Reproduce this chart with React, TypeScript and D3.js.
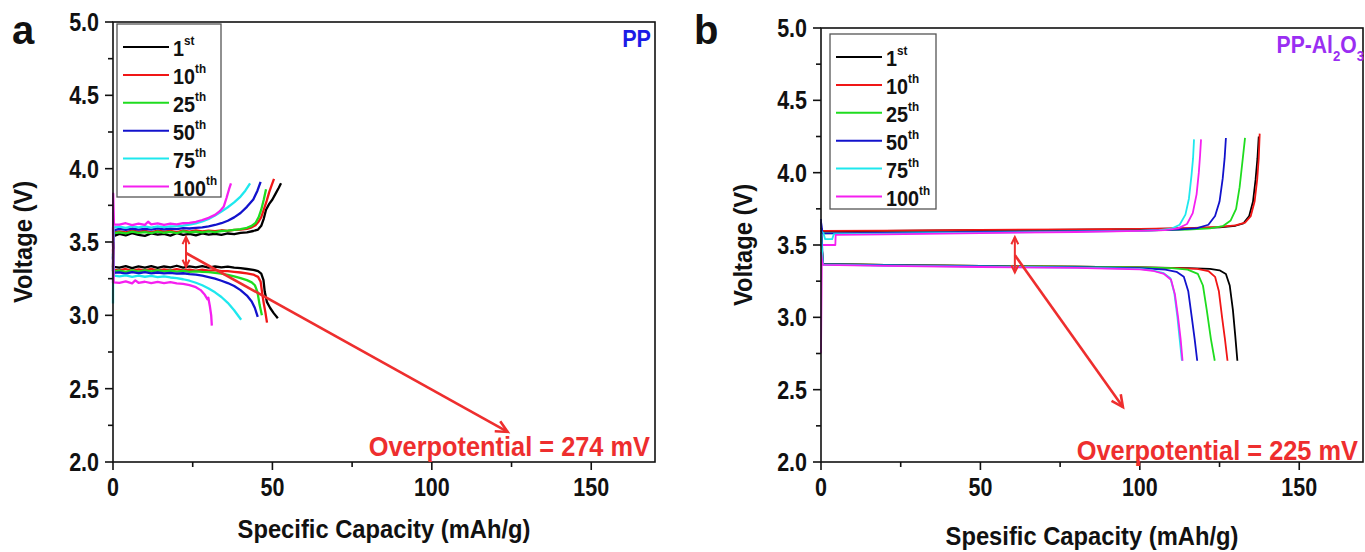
import React from 'react';
import * as d3 from 'd3';

type Pt = [number, number];

const FONT = "'Liberation Sans', Arial, sans-serif";

const cycleLabels = ['1', '10', '25', '50', '75', '100'];
const cycleSuffix = ['st', 'th', 'th', 'th', 'th', 'th'];
const cycleColors = ['#000000', '#f01616', '#1fdc1f', '#1212cc', '#1ee8ee', '#f51ff0'];

const xMajor = [0, 50, 100, 150];
const xMinor = [25, 75, 125];
const yMajor = [2.0, 2.5, 3.0, 3.5, 4.0, 4.5, 5.0];
const yMinor = [2.25, 2.75, 3.25, 3.75, 4.25, 4.75];

// panel a: PP separator (charge / discharge, capacity mAh/g vs voltage V)
const ppCharge1: Pt[] = [[0, 3.30], [0.2, 3.54], [2, 3.555], [4, 3.545], [6, 3.56], [8, 3.548], [10, 3.542], [12, 3.558], [14, 3.55], [16, 3.556], [18, 3.544], [20, 3.56], [22, 3.549], [24, 3.555], [26, 3.545], [28, 3.559], [30, 3.55], [32, 3.556], [34, 3.549], [36, 3.558], [38, 3.553], [40, 3.562], [42, 3.566], [44, 3.575], [45.5, 3.585], [46.5, 3.61], [47.3, 3.66], [48, 3.72], [49, 3.76], [50, 3.79], [51, 3.83], [52, 3.87], [52.7, 3.9]];
const ppCharge10: Pt[] = [[0, 3.33], [0.2, 3.565], [2, 3.572], [4, 3.566], [6, 3.578], [8, 3.57], [10, 3.575], [12, 3.566], [14, 3.578], [16, 3.57], [18, 3.576], [20, 3.568], [22, 3.577], [24, 3.571], [26, 3.579], [28, 3.572], [30, 3.578], [32, 3.574], [34, 3.58], [36, 3.576], [38, 3.582], [40, 3.584], [42, 3.59], [43.5, 3.6], [44.7, 3.615], [45.7, 3.64], [46.5, 3.67], [47.3, 3.72], [48.2, 3.78], [49, 3.84], [49.8, 3.89], [50.5, 3.93]];
const ppCharge25: Pt[] = [[0, 3.32], [0.2, 3.56], [2, 3.566], [4, 3.558], [6, 3.57], [8, 3.562], [10, 3.568], [12, 3.56], [14, 3.571], [16, 3.563], [18, 3.569], [20, 3.561], [22, 3.572], [24, 3.565], [26, 3.57], [28, 3.566], [30, 3.573], [32, 3.568], [34, 3.575], [36, 3.578], [38, 3.583], [40, 3.588], [42, 3.597], [43.5, 3.61], [44.7, 3.63], [45.7, 3.67], [46.5, 3.72], [47.3, 3.79], [48, 3.86]];
const ppCharge50: Pt[] = [[0, 3.38], [0.2, 3.58], [2, 3.59], [4, 3.582], [6, 3.592], [8, 3.585], [10, 3.59], [12, 3.584], [14, 3.593], [16, 3.586], [18, 3.591], [20, 3.588], [22, 3.594], [24, 3.592], [26, 3.597], [28, 3.6], [30, 3.607], [32, 3.616], [34, 3.628], [36, 3.645], [38, 3.668], [40, 3.698], [42, 3.74], [44, 3.79], [45.3, 3.85], [46.3, 3.91]];
const ppCharge75: Pt[] = [[0, 3.4], [0.2, 3.6], [2, 3.605], [4, 3.597], [6, 3.607], [8, 3.6], [10, 3.606], [12, 3.598], [14, 3.607], [16, 3.601], [18, 3.607], [20, 3.606], [22, 3.611], [24, 3.618], [26, 3.627], [28, 3.64], [30, 3.657], [32, 3.68], [34, 3.707], [36, 3.737], [38, 3.77], [40, 3.81], [41.5, 3.85], [43, 3.9]];
const ppCharge100: Pt[] = [[0, 3.22], [0.05, 3.83], [0.3, 3.62], [2, 3.618], [4, 3.628], [6, 3.615], [8, 3.625], [10, 3.617], [11, 3.638], [12, 3.62], [14, 3.627], [16, 3.616], [18, 3.626], [20, 3.62], [22, 3.628], [24, 3.63], [26, 3.638], [28, 3.65], [30, 3.665], [32, 3.685], [33.5, 3.71], [34.7, 3.74], [35.6, 3.8], [36.4, 3.86], [37, 3.9]];

const ppDischarge1: Pt[] = [[0, 3.5], [0.2, 3.33], [2, 3.325], [4, 3.335], [6, 3.322], [8, 3.334], [10, 3.326], [12, 3.336], [14, 3.324], [16, 3.333], [18, 3.327], [20, 3.338], [22, 3.325], [24, 3.334], [26, 3.327], [28, 3.335], [30, 3.326], [32, 3.333], [34, 3.327], [36, 3.332], [38, 3.325], [40, 3.322], [42, 3.316], [44, 3.31], [45.5, 3.302], [46.5, 3.285], [47.2, 3.24], [47.6, 3.16], [48.3, 3.09], [49.3, 3.05], [50.4, 3.015], [51.7, 2.98]];
const ppDischarge10: Pt[] = [[0, 3.45], [0.2, 3.31], [2, 3.306], [4, 3.316], [6, 3.304], [8, 3.314], [10, 3.306], [12, 3.316], [14, 3.305], [16, 3.313], [18, 3.306], [20, 3.315], [22, 3.307], [24, 3.312], [26, 3.305], [28, 3.311], [30, 3.304], [32, 3.308], [34, 3.302], [36, 3.302], [38, 3.297], [40, 3.292], [42, 3.286], [44, 3.278], [45.5, 3.262], [46.3, 3.23], [46.8, 3.15], [47.3, 3.08], [47.8, 3.02], [48.3, 2.95]];
const ppDischarge25: Pt[] = [[0, 3.42], [0.2, 3.3], [2, 3.304], [4, 3.296], [6, 3.306], [8, 3.298], [10, 3.307], [12, 3.299], [14, 3.306], [16, 3.3], [18, 3.305], [20, 3.298], [22, 3.303], [24, 3.297], [26, 3.3], [28, 3.296], [30, 3.295], [32, 3.29], [34, 3.285], [36, 3.276], [38, 3.266], [40, 3.254], [42, 3.24], [43.5, 3.225], [44.5, 3.205], [45.3, 3.16], [46, 3.07], [46.7, 3.0]];
const ppDischarge50: Pt[] = [[0, 3.4], [0.2, 3.29], [2, 3.293], [4, 3.285], [6, 3.295], [8, 3.287], [10, 3.294], [12, 3.286], [14, 3.292], [16, 3.286], [18, 3.29], [20, 3.285], [22, 3.287], [24, 3.281], [26, 3.277], [28, 3.27], [30, 3.261], [32, 3.25], [34, 3.236], [36, 3.22], [38, 3.2], [40, 3.172], [42, 3.135], [43.5, 3.095], [44.5, 3.05], [45.4, 2.99]];
const ppDischarge75: Pt[] = [[0, 3.08], [0.05, 3.45], [0.3, 3.27], [2, 3.265], [4, 3.272], [6, 3.262], [8, 3.27], [10, 3.263], [12, 3.269], [14, 3.261], [16, 3.266], [18, 3.258], [20, 3.254], [22, 3.246], [24, 3.236], [26, 3.222], [28, 3.205], [30, 3.183], [32, 3.157], [34, 3.125], [36, 3.085], [38, 3.035], [40.2, 2.97]];
const ppDischarge100: Pt[] = [[0, 3.6], [0.2, 3.225], [2, 3.222], [4, 3.232], [6, 3.218], [7, 3.238], [8, 3.222], [10, 3.229], [12, 3.219], [14, 3.228], [16, 3.22], [18, 3.226], [20, 3.218], [22, 3.214], [24, 3.206], [26, 3.192], [27.5, 3.172], [28.8, 3.14], [29.6, 3.11], [29.9, 3.12], [30.4, 3.06], [30.8, 3.0], [31, 2.93]];

// panel b: PP-Al2O3 separator
const alCharge1: Pt[] = [[0, 3.62], [0.5, 3.595], [20, 3.597], [50, 3.602], [80, 3.606], [100, 3.61], [115, 3.615], [125, 3.622], [130, 3.633], [132.5, 3.65], [134.3, 3.7], [135.5, 3.8], [136.3, 3.95], [136.9, 4.1], [137.3, 4.25]];
const alCharge10: Pt[] = [[0, 3.62], [0.5, 3.598], [20, 3.6], [50, 3.604], [80, 3.608], [100, 3.612], [115, 3.617], [125, 3.625], [130, 3.635], [133, 3.655], [134.8, 3.7], [136, 3.8], [136.8, 3.95], [137.3, 4.1], [137.6, 4.27]];
const alCharge25: Pt[] = [[0, 3.6], [0.5, 3.58], [20, 3.583], [50, 3.59], [80, 3.596], [100, 3.6], [115, 3.606], [122, 3.615], [126, 3.63], [128.5, 3.67], [130.2, 3.75], [131.3, 3.9], [132.2, 4.08], [133, 4.24]];
const alCharge50: Pt[] = [[0, 3.66], [0.5, 3.58], [20, 3.583], [50, 3.59], [80, 3.596], [100, 3.6], [112, 3.606], [118, 3.617], [121.5, 3.64], [123.6, 3.7], [125, 3.8], [126, 3.96], [126.6, 4.1], [127, 4.24]];
const alCharge75: Pt[] = [[0, 3.6], [0.8, 3.58], [1.3, 3.54], [3.5, 3.54], [4, 3.575], [20, 3.578], [50, 3.585], [80, 3.592], [100, 3.598], [106, 3.603], [110, 3.613], [112.5, 3.64], [114.3, 3.71], [115.4, 3.82], [116.2, 3.98], [116.7, 4.1], [117, 4.23]];
const alCharge100: Pt[] = [[0, 2.75], [0.3, 3.5], [4.5, 3.5], [4.6, 3.57], [20, 3.574], [50, 3.582], [80, 3.59], [100, 3.597], [108, 3.603], [112, 3.615], [114.8, 3.645], [116.6, 3.72], [117.8, 3.85], [118.5, 4.0], [118.9, 4.12], [119.2, 4.23]];

const alDischarge1: Pt[] = [[0, 3.58], [0.6, 3.37], [20, 3.363], [50, 3.356], [80, 3.35], [100, 3.345], [115, 3.34], [122, 3.335], [125, 3.325], [127, 3.3], [128.2, 3.22], [129.2, 3.05], [129.9, 2.88], [130.6, 2.7]];
const alDischarge10: Pt[] = [[0, 3.58], [0.6, 3.37], [20, 3.363], [50, 3.356], [80, 3.35], [100, 3.345], [112, 3.34], [118, 3.335], [121.5, 3.32], [123.6, 3.28], [124.8, 3.18], [125.8, 3.0], [126.7, 2.85], [127.5, 2.7]];
const alDischarge25: Pt[] = [[0, 3.58], [0.6, 3.37], [20, 3.363], [50, 3.356], [80, 3.35], [100, 3.345], [110, 3.34], [115, 3.33], [118.2, 3.3], [119.8, 3.22], [121, 3.05], [122.3, 2.85], [123.5, 2.7]];
const alDischarge50: Pt[] = [[0, 3.68], [0.6, 3.367], [20, 3.36], [50, 3.353], [80, 3.347], [100, 3.34], [108, 3.33], [111.5, 3.315], [113.8, 3.28], [115.2, 3.18], [116.3, 3.0], [117.2, 2.85], [118, 2.7]];
const alDischarge75: Pt[] = [[0, 3.58], [0.6, 3.365], [20, 3.358], [50, 3.35], [80, 3.344], [100, 3.335], [104, 3.325], [107.5, 3.305], [109.6, 3.27], [110.8, 3.17], [111.8, 3.0], [112.5, 2.85], [113.2, 2.7]];
const alDischarge100: Pt[] = [[0, 3.45], [0.6, 3.363], [20, 3.356], [50, 3.348], [80, 3.342], [100, 3.332], [104, 3.322], [107.6, 3.3], [109.8, 3.26], [111, 3.16], [112, 3.0], [112.8, 2.85], [113.4, 2.7]];

const ppCharge = [ppCharge1, ppCharge10, ppCharge25, ppCharge50, ppCharge75, ppCharge100];
const ppDischarge = [ppDischarge1, ppDischarge10, ppDischarge25, ppDischarge50, ppDischarge75, ppDischarge100];
const alCharge = [alCharge1, alCharge10, alCharge25, alCharge50, alCharge75, alCharge100];
const alDischarge = [alDischarge1, alDischarge10, alDischarge25, alDischarge50, alDischarge75, alDischarge100];

// overpotential annotation: double arrow (capacity, top V, bottom V), pointer line start/end
const ppGap = { x: 22.9, top: 3.535, bottom: 3.33, from: [22.9, 3.425] as Pt, to: [123.8, 2.205] as Pt };
const alGap = { x: 60.8, top: 3.555, bottom: 3.31, from: [60.8, 3.43] as Pt, to: [94.7, 2.38] as Pt };

const RED = '#ee2e2e';
const SX = 0.86; // condensed look of the original bold face

function head(x1: number, y1: number, x2: number, y2: number, len = 11) {
  const a = Math.atan2(y2 - y1, x2 - x1);
  const p1 = [x2 - len * Math.cos(a - 0.45), y2 - len * Math.sin(a - 0.45)];
  const p2 = [x2 - len * Math.cos(a + 0.45), y2 - len * Math.sin(a + 0.45)];
  return `M${p1[0]},${p1[1]}L${x2},${y2}L${p2[0]},${p2[1]}`;
}

const Txt = ({ x, y, size, anchor = 'start', fill = '#111', rotate = 0, sx = SX, children }: any) => (
  <text
    transform={`translate(${x},${y}) rotate(${rotate}) scale(${sx},1)`}
    textAnchor={anchor}
    fontSize={size}
    fill={fill}
  >
    {children}
  </text>
);

interface PanelProps {
  box: { left: number; top: number; right: number; bottom: number };
  charge: Pt[][];
  discharge: Pt[][];
  legend: { left: number; top: number; width: number; height: number };
  gap: typeof ppGap;
  xTitle: string;
  xTitleY: number;
  yTitleX: number;
  overText: string;
  overY: number;
  letter: string;
  letterX: number;
  sample: React.ReactNode;
  lineWidth: number;
}

const Panel = ({ box, charge, discharge, legend, gap, xTitle, xTitleY, yTitleX, overText, overY, letter, letterX, sample, lineWidth }: PanelProps) => {
  const x = d3.scaleLinear().domain([0, 170]).range([box.left, box.right]);
  const y = d3.scaleLinear().domain([2, 5]).range([box.bottom, box.top]);
  const line = d3.line<Pt>().x(d => x(d[0])).y(d => y(d[1]));

  const ax = x(gap.x);
  const aTop = y(gap.top);
  const aBot = y(gap.bottom);
  const fx = x(gap.from[0]), fy = y(gap.from[1]);
  const tx = x(gap.to[0]), ty = y(gap.to[1]);

  return (
    <g fontFamily={FONT} fontWeight="bold">
      {charge.map((d, i) => (
        <path key={'c' + i} d={line(d) || ''} fill="none" stroke={cycleColors[i]} strokeWidth={lineWidth} strokeLinejoin="round" />
      ))}
      {discharge.map((d, i) => (
        <path key={'d' + i} d={line(d) || ''} fill="none" stroke={cycleColors[i]} strokeWidth={lineWidth} strokeLinejoin="round" />
      ))}

      {/* frame */}
      <rect x={box.left} y={box.top} width={box.right - box.left} height={box.bottom - box.top} fill="none" stroke="#111" strokeWidth={1.6} />

      {xMajor.map(t => (
        <g key={'xm' + t}>
          <line x1={x(t)} x2={x(t)} y1={box.bottom} y2={box.bottom + 8} stroke="#111" strokeWidth={1.6} />
          <Txt x={x(t)} y={box.bottom + 34} size={25} anchor="middle">{t}</Txt>
        </g>
      ))}
      {xMinor.map(t => (
        <line key={'xn' + t} x1={x(t)} x2={x(t)} y1={box.bottom} y2={box.bottom + 5} stroke="#111" strokeWidth={1.6} />
      ))}
      {yMajor.map(t => (
        <g key={'ym' + t}>
          <line x1={box.left - 8} x2={box.left} y1={y(t)} y2={y(t)} stroke="#111" strokeWidth={1.6} />
          <Txt x={box.left - 14} y={y(t) + 9} size={25} anchor="end">{t.toFixed(1)}</Txt>
        </g>
      ))}
      {yMinor.map(t => (
        <line key={'yn' + t} x1={box.left - 5} x2={box.left} y1={y(t)} y2={y(t)} stroke="#111" strokeWidth={1.6} />
      ))}

      <Txt x={(box.left + box.right) / 2} y={xTitleY} size={25} anchor="middle" sx={0.95}>{xTitle}</Txt>
      <Txt x={yTitleX} y={(box.top + box.bottom) / 2} size={25} anchor="middle" rotate={-90} sx={0.95}>Voltage (V)</Txt>

      <Txt x={letterX} y={44} size={40} sx={1}>{letter}</Txt>

      {/* legend */}
      <rect x={legend.left} y={legend.top} width={legend.width} height={legend.height} fill="#fff" stroke="#555" strokeWidth={1.3} />
      {cycleLabels.map((c, i) => {
        const ly = legend.top + 23 + i * 27.9;
        return (
          <g key={'lg' + c}>
            <line x1={legend.left + 6} x2={legend.left + 52} y1={ly} y2={ly} stroke={cycleColors[i]} strokeWidth={2} />
            <Txt x={legend.left + 56} y={ly + 9} size={22} sx={0.9}>
              {c}
              <tspan fontSize={13} dy={-11}>{cycleSuffix[i]}</tspan>
            </Txt>
          </g>
        );
      })}

      {sample}

      {/* overpotential arrows */}
      <line x1={ax} x2={ax} y1={aTop} y2={aBot} stroke={RED} strokeWidth={2} />
      <path d={head(ax, aBot, ax, aTop, 8)} fill="none" stroke={RED} strokeWidth={2} />
      <path d={head(ax, aTop, ax, aBot, 8)} fill="none" stroke={RED} strokeWidth={2} />
      <line x1={fx} y1={fy} x2={tx} y2={ty} stroke={RED} strokeWidth={2.6} />
      <path d={head(fx, fy, tx, ty, 13)} fill="none" stroke={RED} strokeWidth={2.6} />
      <Txt x={box.right - 5} y={overY} size={27} anchor="end" fill={RED} sx={0.94}>{overText}</Txt>
    </g>
  );
};

export default function App() {
  return (
    <svg width={1365} height={552} style={{ position: 'absolute', left: 0, top: 0, background: '#fff' }}>
      <rect width={1365} height={552} fill="#fff" />
      <Panel
        box={{ left: 113, top: 22, right: 655, bottom: 462 }}
        charge={ppCharge}
        discharge={ppDischarge}
        legend={{ left: 117, top: 24, width: 104, height: 173 }}
        gap={ppGap}
        xTitle="Specific Capacity (mAh/g)"
        xTitleY={538}
        yTitleX={32}
        overText="Overpotential = 274 mV"
        overY={456}
        letter="a"
        letterX={12}
        lineWidth={2.3}
        sample={<Txt x={651} y={47} size={24} anchor="end" fill="#1c1ce6" sx={0.9}>PP</Txt>}
      />
      <Panel
        box={{ left: 821, top: 28, right: 1363, bottom: 462 }}
        charge={alCharge}
        discharge={alDischarge}
        legend={{ left: 830, top: 34, width: 106, height: 175 }}
        gap={alGap}
        xTitle="Spesific Capacity (mAh/g)"
        xTitleY={545}
        yTitleX={752}
        overText="Overpotential = 225 mV"
        overY={460}
        letter="b"
        letterX={694}
        lineWidth={1.8}
        sample={
          <Txt x={1364} y={53} size={24} anchor="end" fill="#9a2ef2" sx={0.88}>
            PP-Al<tspan fontSize={15} dy={8}>2</tspan><tspan dy={-8}>O</tspan><tspan fontSize={15} dy={8}>3</tspan>
          </Txt>
        }
      />
    </svg>
  );
}
